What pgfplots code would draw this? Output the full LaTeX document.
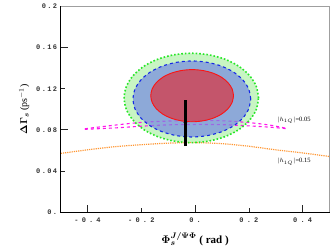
\documentclass[border=0pt]{standalone}
\usepackage{pgfplots}
\pgfplotsset{compat=1.18}
\usepackage{fontspec}
\usepackage{bm}
\setmainfont{Liberation Serif}
\newfontfamily\ytickfont[LetterSpace=20]{Liberation Mono}
\newfontfamily\xtickfont[LetterSpace=45]{Liberation Mono}
\definecolor{gfill}{RGB}{176,241,169}
\definecolor{bfill}{RGB}{117,138,225}
\definecolor{rfill}{RGB}{206,71,88}
\definecolor{gline}{RGB}{40,230,40}
\definecolor{bline}{RGB}{20,40,230}
\definecolor{rline}{RGB}{250,20,20}
\definecolor{mag}{RGB}{255,20,235}
\definecolor{orng}{RGB}{255,150,50}
\begin{document}
\begin{tikzpicture}
\begin{axis}[
  scale only axis,
  width=268.8pt, height=205.5pt,
  xmin=-0.5, xmax=0.5, ymin=0, ymax=0.2,
  axis line style={draw=none},
  tick pos=left, tick align=inside,
  xtick={-0.4,0,0.4}, xticklabels={-0.4,0.,0.4},
  extra x ticks={-0.2,0.2}, extra x tick labels={-0.2,0.2},
  ytick={0,0.08,0.16}, yticklabels={0.,0.08,0.16},
  extra y ticks={0.04,0.12,0.2}, extra y tick labels={0.04,0.12,0.2},
  major tick length=7pt,
  extra tick style={major tick length=4pt},
  tick style={black!85, line width=0.6pt},
  xticklabel style={font=\xtickfont\bfseries\fontsize{7}{8}\selectfont, text=black!80, yshift=-2pt},
  yticklabel style={font=\ytickfont\bfseries\fontsize{7}{8}\selectfont, text=black!80},
  xlabel={\textbf{$\bm{\Phi_s}^{\bm{J/\Psi\Phi}}$ ( rad )}},
  ylabel={$\bm{\Delta\Gamma_s}$ (ps$^{-1}$)},
  xlabel style={font=\fontsize{11}{13}\selectfont, yshift=-3pt},
  ylabel style={font=\fontsize{10}{12}\selectfont},
  clip=false,
]
% green region fill
\addplot[draw=none, fill=gfill, fill opacity=0.7, smooth] coordinates {
(0.236,0.111) (0.2275,0.1223) (0.2025,0.1328) (0.1628,0.1418) (0.111,0.1487) (0.0507,0.1530)
(-0.014,0.1545) (-0.0787,0.1530) (-0.139,0.1487) (-0.1908,0.1418) (-0.2305,0.1328) (-0.2555,0.1223)
(-0.264,0.111) (-0.2555,0.0997) (-0.2305,0.0893) (-0.1908,0.0802) (-0.139,0.0733) (-0.0787,0.0690)
(-0.014,0.0675) (0.0507,0.0690) (0.111,0.0733) (0.1628,0.0802) (0.2025,0.0893) (0.2275,0.0997) (0.236,0.111)};
% orange curve
\addplot[orng, densely dotted, line width=1.2pt, smooth] coordinates {
(-0.5,0.057) (-0.4,0.0605) (-0.3,0.0635) (-0.2,0.0655) (-0.1,0.067) (0,0.0675) (0.1,0.0665) (0.2,0.064) (0.3,0.0605) (0.4,0.0575) (0.5,0.054)};
% magenta curves
\addplot[mag, dashed, line width=1.1pt, smooth] coordinates {
(-0.41,0.081) (-0.3,0.0845) (-0.2,0.0872) (-0.1,0.0885) (0,0.089) (0.1,0.0888) (0.2,0.0870) (0.28,0.0845) (0.337,0.0815)};
\addplot[mag, dashed, line width=1.1pt, smooth] coordinates {
(-0.41,0.0805) (-0.3,0.0818) (-0.2,0.0835) (-0.1,0.0848) (0,0.0852) (0.1,0.085) (0.2,0.0838) (0.28,0.0825) (0.337,0.0812)};
% blue fill
\addplot[draw=none, fill=bfill, fill opacity=0.7, smooth] coordinates {
(0.207,0.110) (0.1995,0.1196) (0.1777,0.1285) (0.1429,0.1362) (0.0975,0.1420) (0.0447,0.1457)
(-0.012,0.147) (-0.0687,0.1457) (-0.1215,0.1420) (-0.1669,0.1362) (-0.2017,0.1285) (-0.2235,0.1196)
(-0.231,0.110) (-0.2235,0.1004) (-0.2017,0.0915) (-0.1669,0.0838) (-0.1215,0.0780) (-0.0687,0.0743)
(-0.012,0.073) (0.0447,0.0743) (0.0975,0.0780) (0.1429,0.0838) (0.1777,0.0915) (0.1995,0.1004) (0.207,0.110)};
% red fill
\addplot[draw=none, fill=rfill, fill opacity=0.85, smooth] coordinates {
(0.143,0.1132) (0.1377,0.1198) (0.1224,0.1259) (0.0979,0.1312) (0.066,0.1352) (0.0289,0.1377)
(-0.011,0.1386) (-0.0509,0.1377) (-0.088,0.1352) (-0.1199,0.1312) (-0.1444,0.1259) (-0.1597,0.1198)
(-0.165,0.1132) (-0.1597,0.1066) (-0.1444,0.1005) (-0.1199,0.0952) (-0.088,0.0912) (-0.0509,0.0887)
(-0.011,0.0878) (0.0289,0.0887) (0.066,0.0912) (0.0979,0.0952) (0.1224,0.1005) (0.1377,0.1066) (0.143,0.1132)};
% borders
\addplot[gline, dotted, line width=1.6pt, smooth] coordinates {
(0.236,0.111) (0.2275,0.1223) (0.2025,0.1328) (0.1628,0.1418) (0.111,0.1487) (0.0507,0.1530)
(-0.014,0.1545) (-0.0787,0.1530) (-0.139,0.1487) (-0.1908,0.1418) (-0.2305,0.1328) (-0.2555,0.1223)
(-0.264,0.111) (-0.2555,0.0997) (-0.2305,0.0893) (-0.1908,0.0802) (-0.139,0.0733) (-0.0787,0.0690)
(-0.014,0.0675) (0.0507,0.0690) (0.111,0.0733) (0.1628,0.0802) (0.2025,0.0893) (0.2275,0.0997) (0.236,0.111)};
\addplot[bline, dashed, line width=1.1pt, smooth] coordinates {
(0.207,0.110) (0.1995,0.1196) (0.1777,0.1285) (0.1429,0.1362) (0.0975,0.1420) (0.0447,0.1457)
(-0.012,0.147) (-0.0687,0.1457) (-0.1215,0.1420) (-0.1669,0.1362) (-0.2017,0.1285) (-0.2235,0.1196)
(-0.231,0.110) (-0.2235,0.1004) (-0.2017,0.0915) (-0.1669,0.0838) (-0.1215,0.0780) (-0.0687,0.0743)
(-0.012,0.073) (0.0447,0.0743) (0.0975,0.0780) (0.1429,0.0838) (0.1777,0.0915) (0.1995,0.1004) (0.207,0.110)};
\addplot[rline, line width=0.9pt, smooth] coordinates {
(0.143,0.1132) (0.1377,0.1198) (0.1224,0.1259) (0.0979,0.1312) (0.066,0.1352) (0.0289,0.1377)
(-0.011,0.1386) (-0.0509,0.1377) (-0.088,0.1352) (-0.1199,0.1312) (-0.1444,0.1259) (-0.1597,0.1198)
(-0.165,0.1132) (-0.1597,0.1066) (-0.1444,0.1005) (-0.1199,0.0952) (-0.088,0.0912) (-0.0509,0.0887)
(-0.011,0.0878) (0.0289,0.0887) (0.066,0.0912) (0.0979,0.0952) (0.1224,0.1005) (0.1377,0.1066) (0.143,0.1132)};
% central value with error bar
\addplot[black, line width=2.3pt] coordinates {(-0.036,0.064) (-0.036,0.109)};
\addplot[black, only marks, mark=*, mark size=1.6pt] coordinates {(-0.036,0.087)};
% labels
\node[anchor=west, font=\fontsize{6.5}{7}\selectfont, inner sep=0pt] at (axis cs:0.305,0.0895) {$|h_{1Q}|$=0.05};
\node[anchor=west, font=\fontsize{6.5}{7}\selectfont, inner sep=0pt] at (axis cs:0.305,0.049) {$|h_{1Q}|$=0.15};
% frame
\draw[gray!75, line width=1.5pt] (rel axis cs:0,1) -- (rel axis cs:1,1) -- (rel axis cs:1,0);
\draw[black, line width=0.7pt] (rel axis cs:0,1) -- (rel axis cs:0,0) -- (rel axis cs:1,0);
\end{axis}
\pgfresetboundingbox
\path ([shift={(-60.7pt,-37pt)}]current axis.south west) rectangle ([shift={(2.5pt,6.5pt)}]current axis.north east);
\end{tikzpicture}
\end{document}
